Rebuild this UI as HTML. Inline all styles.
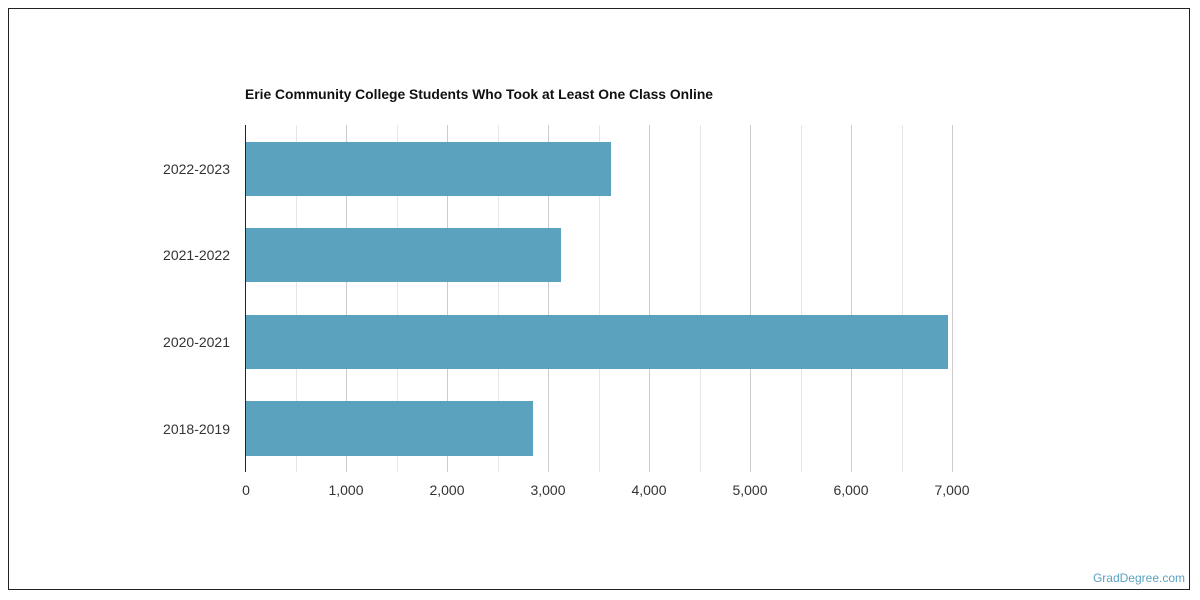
<!DOCTYPE html>
<html><head><meta charset="utf-8"><style>
body{margin:0;background:#fff;}
svg{display:block;font-family:"Liberation Sans",sans-serif;}
</style></head><body>
<svg width="1200" height="600" xmlns="http://www.w3.org/2000/svg">
<rect x="8.5" y="8.5" width="1181" height="581" fill="#fff" stroke="#222" stroke-width="1"/>
<text x="245" y="99" font-size="14" font-weight="bold" fill="#111" textLength="468" lengthAdjust="spacingAndGlyphs">Erie Community College Students Who Took at Least One Class Online</text>
<g stroke="#e6e6e6" stroke-width="1">
<line x1="296.5" y1="125" x2="296.5" y2="472"/><line x1="397.5" y1="125" x2="397.5" y2="472"/>
<line x1="498.5" y1="125" x2="498.5" y2="472"/><line x1="599.5" y1="125" x2="599.5" y2="472"/>
<line x1="700.5" y1="125" x2="700.5" y2="472"/><line x1="801.5" y1="125" x2="801.5" y2="472"/>
<line x1="902.5" y1="125" x2="902.5" y2="472"/>
</g>
<g stroke="#cccccc" stroke-width="1">
<line x1="346.5" y1="125" x2="346.5" y2="472"/><line x1="447.5" y1="125" x2="447.5" y2="472"/>
<line x1="548.5" y1="125" x2="548.5" y2="472"/><line x1="649.5" y1="125" x2="649.5" y2="472"/>
<line x1="750.5" y1="125" x2="750.5" y2="472"/><line x1="851.5" y1="125" x2="851.5" y2="472"/>
<line x1="952.5" y1="125" x2="952.5" y2="472"/>
</g>
<g fill="#5ba2bf">
<rect x="245" y="142" width="366" height="54"/>
<rect x="245" y="228" width="316" height="54"/>
<rect x="245" y="315" width="703" height="54"/>
<rect x="245" y="401" width="288" height="55"/>
</g>
<line x1="245.5" y1="125" x2="245.5" y2="472" stroke="#222" stroke-width="1"/>
<g font-size="14" fill="#333" text-anchor="end">
<text x="230" y="174">2022-2023</text>
<text x="230" y="260">2021-2022</text>
<text x="230" y="347">2020-2021</text>
<text x="230" y="434">2018-2019</text>
</g>
<g font-size="14" fill="#333" text-anchor="middle">
<text x="246" y="495">0</text><text x="346" y="495">1,000</text><text x="447" y="495">2,000</text>
<text x="548" y="495">3,000</text><text x="649" y="495">4,000</text><text x="750" y="495">5,000</text>
<text x="851" y="495">6,000</text><text x="952" y="495">7,000</text>
</g>
<text x="1185" y="582" font-size="12" fill="#5ba2bf" text-anchor="end">GradDegree.com</text>
</svg>
</body></html>
